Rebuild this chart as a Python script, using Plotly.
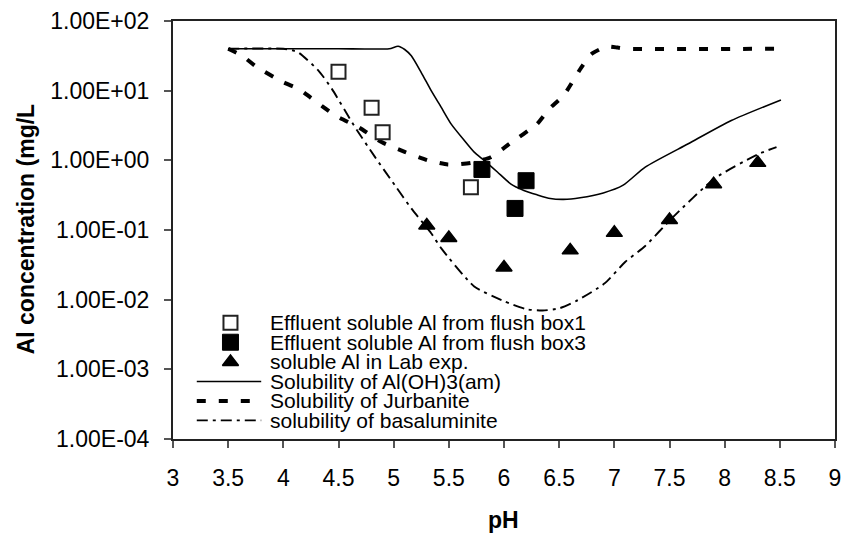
import plotly.graph_objects as go

# ---------------- data ----------------
box1_ph = [4.5, 4.8, 4.9, 5.7]
box1_al = [18.7, 5.7, 2.54, 0.41]

box3_ph = [5.8, 6.1, 6.2]
box3_al = [0.74, 0.204, 0.51]

lab_ph = [5.3, 5.5, 6.0, 6.6, 7.0, 7.5, 7.9, 8.3]
lab_al = [0.116, 0.077, 0.029, 0.051, 0.091, 0.139, 0.455, 0.92]

aloh_ph = [3.5, 4.0, 4.5, 4.96, 5.04, 5.1, 5.16, 5.25, 5.34, 5.43, 5.52, 5.64,
           5.73, 5.82, 5.94, 6.06, 6.18, 6.3, 6.42, 6.54, 6.69, 6.9, 7.08,
           7.28, 7.67, 8.06, 8.51]
aloh_al = [40, 40, 40, 40, 43.5, 39, 31.6, 18.2, 10, 5.8, 3.34, 1.93,
           1.31, 1.0, 0.68, 0.46, 0.37, 0.32, 0.283, 0.275, 0.29, 0.34, 0.44,
           0.80, 1.73, 3.73, 7.36]

jurb_ph = [3.5, 3.63, 3.75, 4.0, 4.14, 4.25, 4.47, 4.68, 4.89, 5.1, 5.31,
           5.49, 5.6, 5.7, 5.88, 6.05, 6.3, 6.41, 6.54, 6.7, 6.79, 6.93,
           7.03, 7.1, 8.5]
jurb_al = [40, 31.6, 22.4, 13.2, 10.6, 7.9, 4.4, 3.0, 1.83, 1.32, 1.0,
           0.87, 0.88, 0.92, 1.11, 1.73, 3.34, 5.5, 8.5, 21.5, 33.4, 43,
           41.5, 40, 40]

basa_ph = [3.5, 4.0, 4.08, 4.14, 4.32, 4.44, 4.64, 4.83, 5.01, 5.16, 5.34,
           5.43, 5.73, 6.0, 6.2, 6.35, 6.5, 6.65, 6.91, 7.1, 7.28, 7.52,
           7.91, 8.3, 8.47]
basa_al = [40, 40, 38, 35, 19.3, 10.6, 3.16, 1.12, 0.44, 0.204, 0.09,
           0.055, 0.0155, 0.0095, 0.0073, 0.007, 0.0075, 0.0095, 0.017,
           0.035, 0.059, 0.147, 0.55, 1.22, 1.55]

x_ticks = [3, 3.5, 4, 4.5, 5, 5.5, 6, 6.5, 7, 7.5, 8, 8.5, 9]
x_ticktext = ["3", "3.5", "4", "4.5", "5", "5.5", "6", "6.5", "7", "7.5", "8", "8.5", "9"]
y_ticks = [1e-4, 1e-3, 1e-2, 1e-1, 1e0, 1e1, 1e2]
y_ticktext = ["1.00E-04", "1.00E-03", "1.00E-02", "1.00E-01", "1.00E+00", "1.00E+01", "1.00E+02"]

legend_names = ["Effluent soluble Al from flush box1",
                "Effluent soluble Al from flush box3",
                "soluble Al in Lab exp.",
                "Solubility of Al(OH)3(am)",
                "Solubility of Jurbanite",
                "solubility of basaluminite"]

FONT = "Liberation Sans, Arial, sans-serif"

# styles
sq_open = dict(symbol="square", size=14, color="white", line=dict(color="#222", width=2))
sq_fill = dict(symbol="square", size=16, color="black", line=dict(color="black", width=1))
tri = dict(symbol="triangle-up", size=14, color="black", line=dict(color="black", width=1.5))
ln_solid = dict(color="black", width=1.6, shape="spline", smoothing=0.6)
ln_jurb = dict(color="black", width=4, dash="9px,13px", shape="spline", smoothing=0.5)
ln_basa = dict(color="black", width=1.9, dash="11px,5px,3px,5px", shape="spline", smoothing=0.6)

fig = go.Figure()
fig.add_trace(go.Scatter(x=aloh_ph, y=aloh_al, mode="lines", line=ln_solid, showlegend=False))
fig.add_trace(go.Scatter(x=jurb_ph, y=jurb_al, mode="lines", line=ln_jurb, showlegend=False))
fig.add_trace(go.Scatter(x=basa_ph, y=basa_al, mode="lines", line=ln_basa, showlegend=False))
fig.add_trace(go.Scatter(x=box1_ph, y=box1_al, mode="markers", marker=sq_open, showlegend=False))
fig.add_trace(go.Scatter(x=box3_ph, y=box3_al, mode="markers", marker=sq_fill, showlegend=False))
fig.add_trace(go.Scatter(x=lab_ph, y=lab_al, mode="markers", marker=tri, showlegend=False))

# ---- custom legend on an overlay axis in pixel-like units ----
L, T, R, B = 173, 20, 841, 439
row_y = [322.5, 342, 361.8, 381.3, 400.8, 420.3]
mk_x = 231
ln_x = [197, 262]
txt_x = 269
leg_lines = [dict(color="black", width=1.6), dict(color="black", width=4, dash="9px,13px"),
             dict(color="black", width=1.9, dash="11px,5px,3px,5px")]
for i, mk in enumerate([sq_open, sq_fill, tri]):
    fig.add_trace(go.Scatter(x=[mk_x], y=[row_y[i]], mode="markers", marker=mk,
                             xaxis="x2", yaxis="y2", showlegend=False, hoverinfo="skip"))
for i, ln in zip([3, 4, 5], leg_lines):
    fig.add_trace(go.Scatter(x=ln_x, y=[row_y[i], row_y[i]], mode="lines", line=ln,
                             xaxis="x2", yaxis="y2", showlegend=False, hoverinfo="skip"))
for i, name in enumerate(legend_names):
    fig.add_annotation(x=txt_x, y=row_y[i], xref="x2", yref="y2", text=name,
                       showarrow=False, xanchor="left", yanchor="middle",
                       font=dict(family=FONT, size=21, color="black"))

# axis titles
fig.add_annotation(x=(506 - L) / (R - L), y=(B - 520) / (B - T), xref="paper", yref="paper",
                   text="<b>pH</b>", showarrow=False, xanchor="center", yanchor="middle",
                   font=dict(family=FONT, size=23, color="black"))
fig.add_annotation(x=(25 - L) / (R - L), y=(B - 228.5) / (B - T), xref="paper", yref="paper",
                   text="<b>Al concentration (mg/L</b>", textangle=-90, showarrow=False,
                   xanchor="center", yanchor="middle",
                   font=dict(family=FONT, size=23, color="black"))

fig.update_layout(
    width=849, height=533,
    margin=dict(l=L, r=849 - R, t=T, b=533 - B),
    paper_bgcolor="white", plot_bgcolor="white",
    font=dict(family=FONT, size=23, color="black"),
    xaxis=dict(range=[3, 9], tickvals=x_ticks, ticktext=x_ticktext, showgrid=False,
               zeroline=False, showline=True, linecolor="#222", linewidth=2, mirror=True,
               ticks="outside", ticklen=7, tickwidth=1.5, tickcolor="#555",
               ticklabelstandoff=10, tickfont=dict(family=FONT, size=23, color="black")),
    yaxis=dict(type="log", range=[-4, 2], tickvals=y_ticks, ticktext=y_ticktext,
               showgrid=False, zeroline=False, showline=True, linecolor="#222",
               linewidth=2, mirror=True, ticks="outside", ticklen=7, tickwidth=1.5,
               tickcolor="#555", ticklabelstandoff=10,
               tickfont=dict(family=FONT, size=23, color="black")),
    xaxis2=dict(range=[L, R], overlaying="x", anchor="y2", visible=False, fixedrange=True),
    yaxis2=dict(range=[B, T], overlaying="y", anchor="x2", visible=False, fixedrange=True),
    showlegend=False,
)

fig.write_html("out.html", config={"displayModeBar": False},
               post_script="document.body.style.margin='0px';document.body.style.padding='0px';")
